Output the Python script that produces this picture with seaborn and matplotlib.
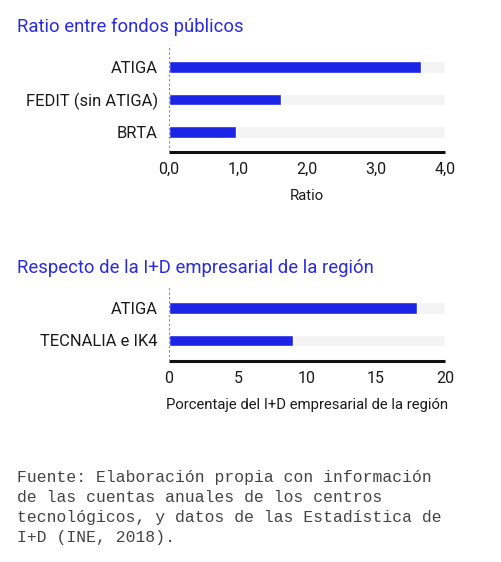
import matplotlib
matplotlib.use("Agg")
import matplotlib.pyplot as plt
import seaborn as sns
import pandas as pd
from matplotlib.ticker import FuncFormatter

sns.set_theme(style="white")
plt.rcParams['font.family'] = ['Roboto', 'DejaVu Sans']

# ---- data ----
ratio_categories = ["ATIGA", "FEDIT (sin ATIGA)", "BRTA"]
ratio_values = [3.65, 1.62, 0.97]
ratio_max = 4.0
ratio_ticks = [0, 1, 2, 3, 4]

pct_categories = ["ATIGA", "TECNALIA e IK4"]
pct_values = [18.0, 9.0]
pct_max = 20
pct_ticks = [0, 5, 10, 15, 20]

title_top = "Ratio entre fondos públicos"
title_bottom = "Respecto de la I+D empresarial de la región"
xlabel_top = "Ratio"
xlabel_bottom = "Porcentaje del I+D empresarial de la región"
source = ("Fuente: Elaboración propia con información\n"
          "de las cuentas anuales de los centros\n"
          "tecnológicos, y datos de las Estadística de\n"
          "I+D (INE, 2018).")

BAR = "#1c24e6"
BG = "#f4f4f4"
TITLE = "#2a2ae2"
TXT = "#1a1a1a"

W, H = 502, 562
fig = plt.figure(figsize=(W / 100, H / 100), dpi=100)
fig.patch.set_facecolor("white")


def px_axes(left, top, right, bottom):
    return fig.add_axes([left / W, 1 - bottom / H, (right - left) / W, (bottom - top) / H])


def panel(ax, cats, vals, vmax, ticks, xlabel, fmt, ylim):
    df = pd.DataFrame({"cat": cats, "val": vals, "max": [vmax] * len(cats)})
    sns.barplot(data=df, x="max", y="cat", orient="h", color=BG, width=0.34,
                saturation=1, ax=ax, zorder=1)
    sns.barplot(data=df, x="val", y="cat", orient="h", color=BAR, width=0.34,
                saturation=1, ax=ax, zorder=2)
    ax.set_xlim(0, vmax)
    ax.set_ylim(*ylim)
    ax.set_facecolor("none")
    ax.axvline(0, color="#888888", lw=0.8, ls=(0, (2, 2)), zorder=3)
    for s in ["top", "right", "left"]:
        ax.spines[s].set_visible(False)
    ax.spines["bottom"].set_color("#111111")
    ax.spines["bottom"].set_linewidth(2.2)
    ax.spines["bottom"].set_capstyle("butt")
    ax.set_xticks(ticks)
    ax.xaxis.set_major_formatter(FuncFormatter(fmt))
    ax.tick_params(axis="x", length=0, labelsize=11.5, labelcolor=TXT, pad=7)
    ax.tick_params(axis="y", length=0, labelsize=11.9, labelcolor=TXT, pad=8)
    ax.set_ylabel("")
    ax.set_xlabel(xlabel, fontsize=10.7, color=TXT, labelpad=9)


ax1 = px_axes(169, 45, 445, 152)
panel(ax1, ratio_categories, ratio_values, ratio_max, ratio_ticks, xlabel_top,
      lambda v, p: f"{v:.1f}".replace(".", ","), (2 + 20 / 32.5, -22 / 32.5))

ax2 = px_axes(169, 286, 445, 361)
panel(ax2, pct_categories, pct_values, pct_max, pct_ticks, xlabel_bottom,
      lambda v, p: f"{v:.0f}", (1 + 20.5 / 32.5, -22 / 32.5))

fig.text(17 / W, 1 - 32 / H, title_top, color=TITLE, fontsize=13.3, ha="left", va="baseline")
fig.text(17 / W, 1 - 273 / H, title_bottom, color=TITLE, fontsize=13.3, ha="left", va="baseline")

fig.text(17 / W, 1 - 470 / H, source, family=["Liberation Mono", "DejaVu Sans Mono"],
         fontsize=11.8, color="#444444", ha="left", va="top", linespacing=1.42)

fig.savefig("out.png", dpi=100, facecolor="white")
